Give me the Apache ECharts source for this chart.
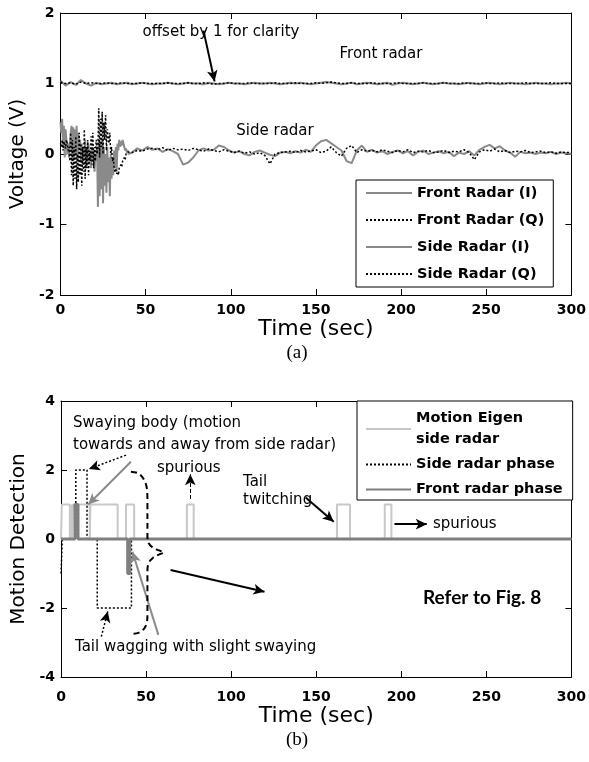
<!DOCTYPE html>
<html><head><meta charset="utf-8">
<script src="https://cdn.jsdelivr.net/npm/echarts@6/dist/echarts.min.js"></script>
<style>html,body{margin:0;padding:0;background:#fff}#c{width:589px;height:762px}</style>
</head><body><div id="c"></div>
<script>
// ---------------- DATA ----------------
const xTicks = [0, 50, 100, 150, 200, 250, 300];
// (a) Front radar, sampled every 3 s from 0 to 300 s (offset by 1)
const FRONT_T0 = 0, FRONT_DT = 3;
const frontI = [
 1.04,0.97,1.02,0.98,1.05,1.00,0.97,1.01,0.99,1.00,
 1.01,0.99,1.00,1.01,0.99,1.00,1.01,1.00,0.99,1.00,
 1.00,1.01,1.00,0.99,1.00,1.01,1.00,1.00,0.99,1.01,
 1.00,0.99,1.00,1.01,1.00,1.00,0.99,1.00,1.01,1.00,
 1.00,1.01,1.00,0.99,1.00,1.01,1.00,1.01,1.00,0.99,
 1.00,1.01,1.02,1.01,1.00,0.99,1.00,1.01,0.99,1.00,
 1.01,1.00,0.99,1.00,1.01,0.98,1.00,1.01,1.00,0.99,
 1.00,1.01,1.00,0.99,1.00,1.01,1.00,1.00,0.99,1.00,
 1.01,1.00,0.99,1.00,1.01,1.00,0.99,1.00,1.01,1.00,
 1.00,0.99,1.00,1.01,1.00,1.00,0.99,1.00,1.00,1.01,
 1.00];
const frontQ = [
 1.02,1.00,1.01,0.99,1.02,1.00,1.01,1.00,1.00,1.01,
 1.00,1.00,1.01,1.00,1.00,1.00,1.01,1.00,1.00,1.00,
 1.00,1.01,1.00,1.00,1.00,1.01,1.00,1.00,1.01,1.00,
 0.99,1.00,1.00,1.01,1.00,1.00,1.00,1.01,1.00,1.00,
 1.00,1.00,1.01,1.00,1.00,1.00,1.01,1.00,1.00,1.00,
 1.01,1.00,1.01,1.02,1.01,1.00,1.00,1.01,1.00,1.00,
 1.00,1.01,1.00,1.00,1.00,1.00,1.01,1.00,1.00,1.00,
 1.00,1.01,1.00,1.00,1.00,1.01,1.00,1.00,1.00,1.01,
 1.00,1.00,1.00,1.01,1.00,1.00,1.01,1.00,1.00,1.00,
 1.00,1.01,1.00,1.00,1.00,1.00,1.01,1.00,1.00,1.00,
 1.00];
// (a) Side radar, 0-40 s every 0.5 s, then 42-300 s every 3 s
const SIDE_EARLY_T0 = 0, SIDE_EARLY_DT = 0.5;
const SIDE_LATE_T0 = 42, SIDE_LATE_DT = 3;
const sideIEarly = [
 0.45,0.30,0.50,0.10,0.40,-0.05,0.35,
 0.20,0.00,0.15,-0.05,0.10,0.30,
 0.40,-0.10,0.38,-0.05,0.35,0.00,0.40,-0.10,0.30,0.10,
 0.20,-0.10,0.15,-0.15,0.10,-0.05,0.20,-0.20,0.10,-0.10,0.15,-0.15,0.05,-0.20,0.10,-0.10,0.05,-0.25,0.00,-0.10,
 0.10,-0.75,0.20,-0.60,0.15,-0.50,0.20,-0.70,0.10,-0.45,0.00,-0.55,0.10,-0.40,-0.05,-0.60,0.00,-0.35,
 -0.10,-0.30,0.05,-0.20,0.10,-0.25,0.15,0.05,0.20,0.10,0.18,0.12,0.20,0.15,0.10,0.05,0.08,0.02,0.05,0.00];
const sideILate = [
 0.02,0.08,0.05,0.10,0.06,0.08,0.03,0.07,0.04,0.00,
 -0.15,-0.12,-0.05,0.05,0.08,0.05,0.06,0.12,0.10,0.05,
 0.02,0.04,0.00,-0.02,0.03,0.05,0.02,-0.01,-0.03,0.02,
 0.03,0.01,0.04,0.02,0.06,0.03,0.12,0.18,0.20,0.15,
 0.10,0.05,-0.10,-0.13,0.05,0.12,0.03,0.06,0.02,0.04,
 0.00,0.03,0.05,0.01,0.04,-0.02,0.03,0.05,0.00,0.02,
 0.04,0.01,0.03,-0.03,0.02,0.00,0.04,-0.02,0.06,0.10,
 0.13,0.08,0.11,0.05,0.02,-0.04,0.03,0.01,0.02,0.00,
 0.02,0.01,0.03,0.00,0.02,0.01,0.00];
const sideQEarly = [
 0.15,0.10,0.20,0.05,0.18,0.12,0.08,0.20,0.15,0.05,0.10,
 -0.10,0.30,-0.30,0.20,-0.45,0.10,-0.35,0.25,-0.50,0.00,-0.40,0.30,-0.30,0.15,-0.45,0.10,-0.25,0.35,-0.35,0.10,-0.20,0.20,-0.30,0.05,
 -0.10,0.25,-0.15,0.30,-0.20,0.10,-0.10,0.20,0.00,0.10,
 0.65,-0.05,0.50,0.10,0.60,0.00,0.45,0.20,0.55,0.05,0.35,0.25,
 0.15,0.30,0.00,0.10,-0.10,-0.05,-0.20,-0.25,-0.22,-0.28,-0.25,-0.30,-0.20,-0.22,-0.15,-0.18,-0.10,-0.12,-0.05,-0.08,0.00,-0.02,0.03,0.02];
const sideQLate = [
 0.02,0.05,0.04,0.07,0.08,0.06,0.09,0.05,0.08,0.06,
 0.07,0.05,0.08,0.06,0.04,0.07,0.05,0.03,0.06,0.04,
 0.02,0.04,0.01,0.03,0.00,0.02,-0.02,-0.14,0.00,0.02,
 0.03,0.04,0.02,0.05,0.03,0.04,0.06,0.02,0.04,0.10,
 0.02,-0.03,0.08,0.12,0.02,0.06,0.04,0.05,0.03,0.06,
 0.04,0.02,0.05,0.03,0.06,0.02,0.04,0.03,0.05,0.02,
 0.03,0.05,0.02,0.04,0.03,0.06,0.02,-0.08,0.03,0.06,
 0.04,0.07,0.03,0.05,0.02,0.04,0.03,0.05,0.02,0.03,
 0.04,0.02,0.03,0.01,0.03,0.02,0.02];
// (b) step signals: value holds from each time until the next
const eigenT = [0,0.5,5.2,5.8,6.4,7.0,16.9,17.3,33.3,38.2,43,74,78,162.2,169.9,190.3,194.2,300];
const eigenV = [0,1,0,1,0,1,0,1,0,1,0,1,0,1,0,1,0,0];
const sidePhaseT = [0,0.8,8.7,15.3,21.3,41.4,300];
const sidePhaseV = [-1,0,2,0,-2,0,0];
const frontPhaseT = [0,8.2,10,39.2,40.4,300];
const frontPhaseV = [0,1,0,-1,0,0];
// (b) dashed brace (data coordinates)
const braceT = [41.1,45.5,48.8,50.5,50.8,50.8,51.5,54,57.5,60.5,57.5,54,51.5,50.8,50.8,50.3,48.5,45.5,41.7];
const braceV = [1.95,1.9,1.72,1.45,1.1,0.1,-0.12,-0.25,-0.33,-0.39,-0.45,-0.55,-0.7,-0.95,-2.2,-2.45,-2.62,-2.72,-2.75];

// ---------------- HELPERS ----------------
function uniform(t0, dt, vals){ return vals.map((v,i)=>[+(t0+i*dt).toFixed(3), v]); }
function zip(ts, vs){ return ts.map((t,i)=>[t, vs[i]]); }
const FONT = '"DejaVu Sans", "Liberation Sans", sans-serif';
const GRAY = '#8a8a8a', DOT = [2,2];

function arrow(from, to, color, width, type){
  return [{coord: from, lineStyle:{color, width, type}}, {coord: to}];
}

const chart = echarts.init(document.getElementById('c'), null, {renderer:'canvas'});

function xAxes(g, labelMargin, nameGap){
  return [
    {gridIndex:g, type:'value', min:0, max:300, interval:50, position:'bottom',
     name:'Time (sec)', nameLocation:'middle', nameGap:nameGap,
     nameTextStyle:{fontFamily:FONT, fontSize:22, color:'#000'},
     axisLine:{show:true, onZero:false, lineStyle:{color:'#000', width:1}},
     axisTick:{inside:true, length:6, lineStyle:{color:'#000'}},
     axisLabel:{margin:labelMargin, fontFamily:FONT, fontWeight:'bold', fontSize:14, color:'#000',
       formatter: v => xTicks.includes(v) ? String(v) : ''},
     splitLine:{show:false}},
    {gridIndex:g, type:'value', min:0, max:300, interval:50, position:'top',
     axisLine:{show:true, onZero:false, lineStyle:{color:'#000', width:1}},
     axisTick:{inside:true, length:6, lineStyle:{color:'#000'}},
     axisLabel:{show:false}, splitLine:{show:false}}
  ];
}
function yAxes(g, min, max, interval, name, nameGap){
  return [
    {gridIndex:g, type:'value', min, max, interval, position:'left',
     name, nameLocation:'middle', nameGap, nameRotate:90,
     nameTextStyle:{fontFamily:FONT, fontSize:20, color:'#000'},
     axisLine:{show:true, onZero:false, lineStyle:{color:'#000', width:1}},
     axisTick:{inside:true, length:6, lineStyle:{color:'#000'}},
     axisLabel:{margin:6, fontFamily:FONT, fontWeight:'bold', fontSize:14, color:'#000'},
     splitLine:{show:false}},
    {gridIndex:g, type:'value', min, max, interval, position:'right',
     axisLine:{show:true, onZero:false, lineStyle:{color:'#000', width:1}},
     axisTick:{inside:true, length:6, lineStyle:{color:'#000'}},
     axisLabel:{show:false}, splitLine:{show:false}}
  ];
}

const txt = (x, y, text, opts={}) => ({
  type:'text', x, y, silent:true, z:50,
  style:Object.assign({text, fill:'#000', font:'15px ' + FONT,
    align:'left', verticalAlign:'middle', textAlign:'left', textVerticalAlign:'middle'}, opts)
});

const legendText = {fontFamily:FONT, fontWeight:'bold', fontSize:14.5, color:'#000'};

const option = {
  animation:false,
  backgroundColor:'#fff',
  grid:[
    {left:58, top:13, width:514, height:282},
    {left:61, top:401, width:515, height:276}
  ],
  xAxis:[...xAxes(0, 8, 16), ...xAxes(1, 13, 22)],
  yAxis:[...yAxes(0, -2, 2, 1, 'Voltage (V)', 27), ...yAxes(1, -4, 4, 2, 'Motion Detection', 27)],
  legend:[
    {data:['Front Radar (I)','Front Radar (Q)','Side Radar (I)','Side Radar (Q)'],
     orient:'vertical', left:356, top:180, selectedMode:false,
     itemWidth:46, itemHeight:12, itemGap:9, itemStyle:{opacity:0},
     padding:[4,9,4,9], borderColor:'#000', borderWidth:1, backgroundColor:'#fff',
     textStyle:Object.assign({lineHeight:18}, legendText)},
    {data:['Motion Eigen\nside radar','Side radar phase','Front radar phase'],
     orient:'vertical', left:357, top:401, selectedMode:false,
     itemWidth:45, itemHeight:12, itemGap:4, itemStyle:{opacity:0},
     padding:[7,10,0,8], borderColor:'#000', borderWidth:1, backgroundColor:'#fff',
     textStyle:Object.assign({lineHeight:21}, legendText)}
  ],
  series:[
    {name:'Front Radar (I)', type:'line', xAxisIndex:0, yAxisIndex:0, symbol:'none',
     data:uniform(FRONT_T0, FRONT_DT, frontI), lineStyle:{color:GRAY, width:2}, itemStyle:{color:GRAY}},
    {name:'Front Radar (Q)', type:'line', xAxisIndex:0, yAxisIndex:0, symbol:'none',
     data:uniform(FRONT_T0, FRONT_DT, frontQ), lineStyle:{color:'#000', width:1.5, type:DOT}, itemStyle:{color:'#000'}},
    {name:'Side Radar (I)', type:'line', xAxisIndex:0, yAxisIndex:0, symbol:'none',
     data:uniform(SIDE_EARLY_T0, SIDE_EARLY_DT, sideIEarly).concat(uniform(SIDE_LATE_T0, SIDE_LATE_DT, sideILate)),
     lineStyle:{color:GRAY, width:2}, itemStyle:{color:GRAY}},
    {name:'Side Radar (Q)', type:'line', xAxisIndex:0, yAxisIndex:0, symbol:'none',
     data:uniform(SIDE_EARLY_T0, SIDE_EARLY_DT, sideQEarly).concat(uniform(SIDE_LATE_T0, SIDE_LATE_DT, sideQLate)),
     lineStyle:{color:'#000', width:1.5, type:DOT}, itemStyle:{color:'#000'},
     markLine:{silent:true, symbol:['none','arrow'], symbolSize:[8,11], label:{show:false},
       data:[arrow([84,1.75],[90.5,1.03],'#000',2,'solid')]}},
    {name:'Motion Eigen\nside radar', type:'line', xAxisIndex:2, yAxisIndex:2, symbol:'none', step:'end',
     data:zip(eigenT, eigenV), lineStyle:{color:'#c8c8c8', width:2}, itemStyle:{color:'#c8c8c8'}},
    {name:'Side radar phase', type:'line', xAxisIndex:2, yAxisIndex:2, symbol:'none', step:'end',
     data:zip(sidePhaseT, sidePhaseV), lineStyle:{color:'#000', width:1.5, type:DOT}, itemStyle:{color:'#000'}},
    {name:'Front radar phase', type:'line', xAxisIndex:2, yAxisIndex:2, symbol:'none', step:'end',
     data:zip(frontPhaseT, frontPhaseV), lineStyle:{color:'#7f7f7f', width:3}, itemStyle:{color:'#7f7f7f'},
     markLine:{silent:true, symbol:['none','arrow'], symbolSize:[8,11], label:{show:false},
       data:[
         arrow([38.2,2.43],[16.4,2.03],'#000',1.5,DOT),
         arrow([41.1,2.24],[16.0,1.0],'#8a8a8a',2,'solid'),
         arrow([76,1.16],[76,1.88],'#000',1,'dashed'),
         arrow([143.8,1.2],[160.3,0.5],'#000',2,'solid'),
         arrow([196,0.43],[215,0.43],'#000',2,'solid'),
         arrow([23.7,-2.83],[27.5,-2.1],'#000',1.5,DOT),
         arrow([57.2,-2.78],[42.0,-0.37],'#8a8a8a',2,'solid'),
         arrow([64.4,-0.9],[119.6,-1.53],'#000',2,'solid')
       ]}},
    {name:'brace', type:'line', xAxisIndex:2, yAxisIndex:2, symbol:'none', smooth:0.35, silent:true,
     data:zip(braceT, braceV), lineStyle:{color:'#000', width:2, type:[6,4]}, z:5}
  ],
  graphic:[
    txt(221, 32, 'offset by 1 for clarity', {align:'center', textAlign:'center'}),
    txt(381, 54, 'Front radar', {align:'center', textAlign:'center'}),
    txt(275, 131, 'Side radar', {align:'center', textAlign:'center'}),
    txt(297, 353, '(a)', {align:'center', textAlign:'center', font:'19px "Liberation Serif", serif'}),
    txt(73, 423, 'Swaying body (motion'),
    txt(73, 445, 'towards and away from side radar)'),
    txt(157, 468, 'spurious'),
    txt(243, 482, 'Tail'),
    txt(243, 500, 'twitching'),
    txt(433, 524, 'spurious'),
    txt(423, 598, 'Refer to Fig. 8', {font:'bold 19px Lato, "Open Sans", sans-serif'}),
    txt(75, 647, 'Tail wagging with slight swaying'),
    txt(297, 740, '(b)', {align:'center', textAlign:'center', font:'19px "Liberation Serif", serif'})
  ]
};
chart.setOption(option);
</script></body></html>
